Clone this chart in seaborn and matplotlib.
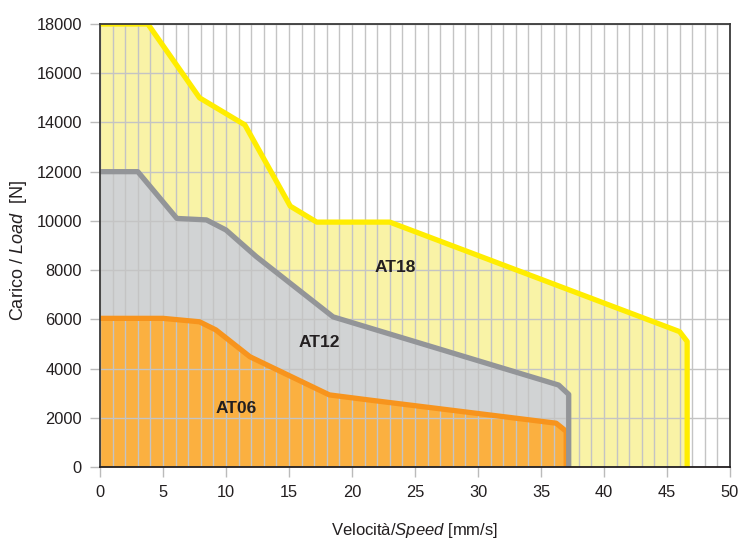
import matplotlib
matplotlib.use("Agg")
import matplotlib.pyplot as plt
import seaborn as sns

# ---- data ----
speed_at18 = [0, 3.8, 7.9, 11.5, 15.1, 17.2, 23.0, 46.0, 46.6, 46.6]
load_at18 = [18000, 18000, 15000, 13900, 10600, 9950, 9950, 5500, 5100, 0]

speed_at12 = [0, 3.0, 6.1, 8.45, 10.0, 12.4, 18.5, 36.4, 37.2, 37.2]
load_at12 = [12000, 12000, 10100, 10040, 9630, 8550, 6100, 3330, 2950, 0]

speed_at06 = [0, 5.0, 7.9, 9.2, 11.9, 18.2, 21.4, 36.2, 37.0, 37.0]
load_at06 = [6040, 6040, 5900, 5570, 4480, 2930, 2720, 1780, 1450, 0]

series_names = ["AT18", "AT12", "AT06"]
label_pos = [(23.4, 8100), (17.4, 5050), (10.8, 2360)]

x_ticks = [0, 5, 10, 15, 20, 25, 30, 35, 40, 45, 50]
y_ticks = [0, 2000, 4000, 6000, 8000, 10000, 12000, 14000, 16000, 18000]

line_colors = ["#FFED00", "#939598", "#F7941D"]
fill_colors = ["#F9F3A6", "#D1D3D4", "#FBB040"]

sns.set_theme(style="white")
plt.rcParams["font.family"] = ["Liberation Sans", "DejaVu Sans"]
plt.rcParams["mathtext.fontset"] = "custom"
plt.rcParams["mathtext.it"] = "Liberation Sans:italic"
plt.rcParams["mathtext.rm"] = "Liberation Sans"

fig = plt.figure(figsize=(7.41, 5.42), dpi=100)
ax = fig.add_axes([100 / 741, 1 - 467 / 542, 630 / 741, 443 / 542])

series = [(speed_at18, load_at18), (speed_at12, load_at12), (speed_at06, load_at06)]

for i, (xs, ys) in enumerate(series):
    ax.fill(list(xs) + [0], list(ys) + [0], color=fill_colors[i], zorder=1 + i * 0.1, lw=0)

for i, (xs, ys) in enumerate(series):
    sns.lineplot(x=xs, y=ys, sort=False, estimator=None, ax=ax, color=line_colors[i],
                 lw=3.8, zorder=4 - i * 0.1, solid_joinstyle="round", solid_capstyle="butt")

for name, (px, py) in zip(series_names, label_pos):
    ax.text(px, py, name, ha="center", va="center", fontsize=12.5, fontweight="bold",
            color="#231F20", zorder=6)

ax.set_xlim(0, 50)
ax.set_ylim(0, 18000)
ax.set_xticks(x_ticks)
ax.set_yticks(y_ticks)
ax.set_xticks(range(0, 51), minor=True)
ax.set_xticklabels([str(t) for t in x_ticks])
ax.set_yticklabels([str(t) for t in y_ticks])

ax.grid(True, which="both", axis="x", color="#C4C4C4", lw=1.0, zorder=2)
ax.grid(True, which="major", axis="y", color="#C4C4C4", lw=1.0, zorder=2)
ax.set_axisbelow(False)
for gl in ax.get_xgridlines() + ax.get_ygridlines():
    gl.set_zorder(2)

ax.tick_params(axis="both", which="major", length=7, width=1, color="#BBBBBB",
               labelsize=11.8, labelcolor="#231F20", pad=6, direction="out",
               bottom=True, left=True)
ax.tick_params(axis="x", which="minor", length=0)

for side, sp in ax.spines.items():
    sp.set_visible(True)
    sp.set_color("#3A3A3A")
    sp.set_linewidth(1.3)
    sp.set_zorder(7)
ax.spines["bottom"].set_color("#231F20")

ax.set_xlabel(r"Velocità/$\it{Speed}$ [mm/s]", fontsize=12, color="#231F20")
ax.xaxis.set_label_coords(0.5, -0.122)
ax.set_ylabel(r"Carico / $\it{Load}$  [N]", fontsize=13, color="#231F20")
ax.yaxis.set_label_coords(-0.112, 0.488)

fig.savefig("out.png", dpi=100)
